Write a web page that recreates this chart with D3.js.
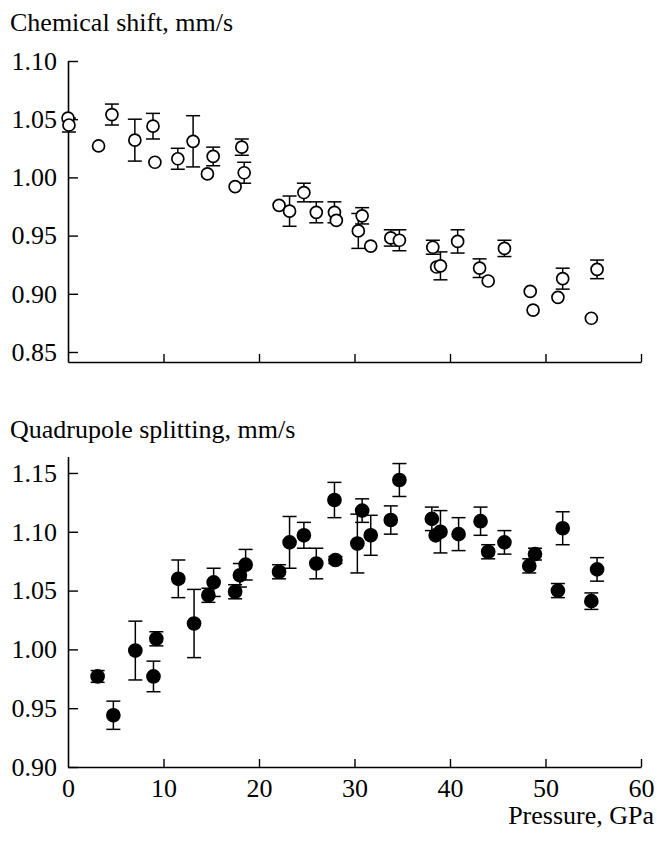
<!DOCTYPE html>
<html>
<head>
<meta charset="utf-8">
<script src="https://cdn.jsdelivr.net/npm/d3@7"></script>
<style>
  html, body { margin: 0; padding: 0; background: #fff; }
  svg { display: block; }
  text { font-family: "Liberation Serif", "Times New Roman", serif; fill: #000; }
</style>
</head>
<body>
<svg id="chart" width="657" height="842"></svg>
<script>
// ---- Data ----
// Chemical shift (open circles); err = 0 means no error bar drawn
const csPressure = [0.0, 0.1, 3.2, 4.6, 7.0, 8.9, 9.1, 11.5, 13.1, 14.6, 15.2, 17.5, 18.2, 18.45,
  22.1, 23.2, 24.7, 26.0, 27.9, 28.1, 30.4, 30.8, 31.7, 33.8, 34.7, 38.2, 38.6, 39.0, 40.8,
  43.1, 44.0, 45.7, 48.4, 48.7, 51.3, 51.8, 54.8, 55.4];
const csValue = [1.051, 1.045, 1.027, 1.054, 1.032, 1.044, 1.013, 1.016, 1.031, 1.003, 1.018, 0.992, 1.026, 1.004,
  0.976, 0.971, 0.987, 0.970, 0.970, 0.963, 0.954, 0.967, 0.941, 0.948, 0.946, 0.940, 0.923, 0.924, 0.945,
  0.922, 0.911, 0.939, 0.902, 0.886, 0.897, 0.913, 0.879, 0.921];
const csError = [0, 0.006, 0, 0.009, 0.018, 0.011, 0, 0.009, 0.022, 0, 0.008, 0, 0.007, 0.009,
  0, 0.013, 0.008, 0.009, 0.009, 0, 0.015, 0.007, 0, 0.007, 0.009, 0.006, 0, 0.012, 0.010,
  0.008, 0, 0.007, 0, 0, 0, 0.009, 0, 0.008];

// Quadrupole splitting (filled circles)
const qsPressure = [3.1, 4.75, 7.05, 8.95, 9.25, 11.55, 13.2, 14.7, 15.25, 17.5, 18.0, 18.6,
  22.1, 23.2, 24.7, 26.0, 27.9, 28.0, 30.3, 30.8, 31.7, 33.8, 34.7, 38.1, 38.5, 39.0, 40.9,
  43.2, 44.0, 45.7, 48.3, 48.9, 51.3, 51.8, 54.8, 55.4];
const qsValue = [0.977, 0.944, 0.999, 0.977, 1.009, 1.060, 1.022, 1.046, 1.057, 1.049, 1.063, 1.072,
  1.066, 1.091, 1.097, 1.073, 1.127, 1.076, 1.090, 1.118, 1.097, 1.110, 1.144, 1.111, 1.097, 1.100, 1.098,
  1.109, 1.083, 1.091, 1.071, 1.081, 1.050, 1.103, 1.041, 1.068];
const qsError = [0.005, 0.012, 0.025, 0.013, 0.006, 0.016, 0.029, 0.006, 0.012, 0.006, 0.010, 0.013,
  0.006, 0.022, 0.011, 0.013, 0.015, 0.003, 0.025, 0.010, 0.017, 0.012, 0.014, 0.010, 0, 0.018, 0.014,
  0.012, 0.006, 0.010, 0.006, 0.005, 0.006, 0.014, 0.007, 0.010];

const xTicks = [0, 10, 20, 30, 40, 50, 60];
const csTicks = [0.85, 0.90, 0.95, 1.00, 1.05, 1.10];
const qsTicks = [0.90, 0.95, 1.00, 1.05, 1.10, 1.15];

const csTitle = "Chemical shift, mm/s";
const qsTitle = "Quadrupole splitting, mm/s";
const xTitle = "Pressure, GPa";

// ---- Drawing ----
const svg = d3.select("#chart");
const FS = 26;

const x = d3.scaleLinear().domain([0, 60]).range([68, 641]);
const yCS = d3.scaleLinear().domain([0.8414, 1.10]).range([362, 61]);
const yQS = d3.scaleLinear().domain([0.90, 1.164]).range([767, 456.5]);

function drawPanel(y, yTicks, showXLabels, px, pv, pe, filled, title, titleY) {
  const g = svg.append("g");
  const y0 = y.range()[0];
  // x axis
  const xa = d3.axisBottom(x).tickValues(xTicks).tickSize(-8).tickSizeOuter(0).tickPadding(12)
    .tickFormat(showXLabels ? d3.format("d") : () => "");
  const gx = g.append("g").attr("transform", `translate(0,${y0})`).call(xa);
  // y axis
  const ya = d3.axisLeft(y).tickValues(yTicks).tickSize(-10).tickSizeOuter(0).tickPadding(11)
    .tickFormat(d3.format(".2f"));
  const gy = g.append("g").attr("transform", `translate(${x(0)},0)`).call(ya);
  [gx, gy].forEach(a => {
    a.selectAll("path.domain").attr("stroke", "#000").attr("stroke-width", 1.6);
    a.selectAll(".tick line").attr("stroke", "#000").attr("stroke-width", 1.4);
    a.selectAll("text").style("font-family", '"Liberation Serif", "Times New Roman", serif').style("font-size", FS + "px").attr("fill", "#000");
  });
  gx.selectAll(".tick").filter(d => d === 0).select("line").remove();

  const data = px.map((p, i) => ({ p, v: pv[i], e: pe[i] }));
  const eb = g.append("g").attr("stroke", "#000").attr("stroke-width", 1.5);
  const withErr = data.filter(d => d.e > 0);
  eb.selectAll("line.v").data(withErr).join("line")
    .attr("x1", d => x(d.p)).attr("x2", d => x(d.p))
    .attr("y1", d => y(d.v - d.e)).attr("y2", d => y(d.v + d.e));
  eb.selectAll("line.t").data(withErr).join("line")
    .attr("x1", d => x(d.p) - 7).attr("x2", d => x(d.p) + 7)
    .attr("y1", d => y(d.v + d.e)).attr("y2", d => y(d.v + d.e));
  eb.selectAll("line.b").data(withErr).join("line")
    .attr("x1", d => x(d.p) - 7).attr("x2", d => x(d.p) + 7)
    .attr("y1", d => y(d.v - d.e)).attr("y2", d => y(d.v - d.e));

  g.append("g").selectAll("circle").data(data).join("circle")
    .attr("cx", d => x(d.p)).attr("cy", d => y(d.v))
    .attr("r", filled ? 6.5 : 6)
    .attr("fill", filled ? "#000" : "#fff")
    .attr("stroke", "#000").attr("stroke-width", 1.7);

  svg.append("text").attr("x", 10).attr("y", titleY)
    .style("font-size", FS + "px").text(title);
}

drawPanel(yCS, csTicks, false, csPressure, csValue, csError, false, csTitle, 31);
drawPanel(yQS, qsTicks, true, qsPressure, qsValue, qsError, true, qsTitle, 438);

svg.append("text").attr("x", 654).attr("y", 824).attr("text-anchor", "end")
  .style("font-size", FS + "px").text(xTitle);
</script>
</body>
</html>
